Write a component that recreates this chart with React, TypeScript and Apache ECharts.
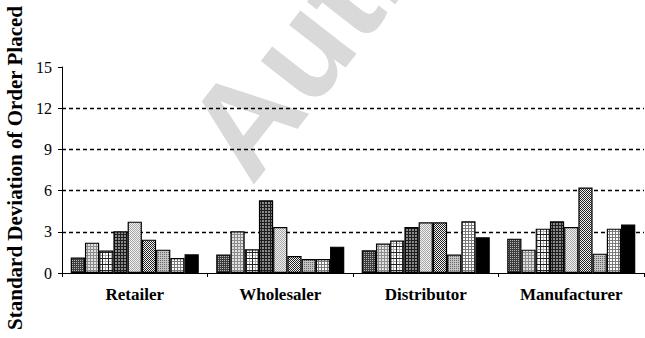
import React, { useEffect, useRef } from "react";
import * as echarts from "echarts";

const echelons = ["Retailer", "Wholesaler", "Distributor", "Manufacturer"];
const seriesNames = ["S1", "S2", "S3", "S4", "S5", "S6", "S7", "S8", "S9"];
const retailer = [1.12, 2.21, 1.63, 3.04, 3.74, 2.43, 1.7, 1.09, 1.36];
const wholesaler = [1.34, 3.04, 1.73, 5.29, 3.35, 1.24, 1.02, 1.02, 1.92];
const distributor = [1.65, 2.14, 2.36, 3.35, 3.69, 3.69, 1.34, 3.77, 2.6];
const manufacturer = [2.5, 1.7, 3.23, 3.77, 3.35, 6.22, 1.41, 3.23, 3.53];
const yTicks = [0, 3, 6, 9, 12, 15];

type PixFn = (x: number, y: number) => string;

function makePattern(size: number, fn: PixFn) {
  const c = document.createElement("canvas");
  c.width = size;
  c.height = size;
  const ctx = c.getContext("2d")!;
  for (let y = 0; y < size; y++) {
    for (let x = 0; x < size; x++) {
      ctx.fillStyle = fn(x, y);
      ctx.fillRect(x, y, 1, 1);
    }
  }
  return { image: c, repeat: "repeat", imageWidth: size, imageHeight: size } as any;
}

export default function App() {
  const ref = useRef<HTMLDivElement>(null);
  useEffect(() => {
    if (!ref.current) return;
    const chart = echarts.init(ref.current, null, { renderer: "svg" });
    const patterns: any[] = [
      makePattern(4, (x, y) => (x % 2 === 0 && y % 2 === 0 ? "#b8b8b8" : "#3c3c3c")),
      makePattern(3, (x, y) => (x % 3 === 0 || y % 3 === 0 ? "#8c8c8c" : "#e2e2e2")),
      makePattern(6, (x, y) => (x === 0 || y === 0 ? "#222" : x === 3 || y === 3 ? "#aaa" : "#fff")),
      makePattern(3, (x, y) => (x % 3 === 0 || y % 3 === 0 ? "#1e1e1e" : "#8a8a8a")),
      makePattern(2, (x, y) => ((x + y) % 2 === 0 ? "#a8a8a8" : "#f0f0f0")),
      makePattern(2, (x, y) => ((x + y) % 2 === 0 ? "#222" : "#f4f4f4")),
      makePattern(2, (x, y) => (x % 2 === 0 && y % 2 === 0 ? "#666" : "#c4c4c4")),
      makePattern(3, (x, y) => (x % 3 === 0 || y % 3 === 0 ? "#7a7a7a" : "#ffffff")),
      "#000000",
    ];
    const table = [retailer, wholesaler, distributor, manufacturer];
    const series = seriesNames.map((name, i) => ({
      name,
      type: "bar",
      data: table.map((row) => row[i]),
      barGap: "0%",
      barCategoryGap: "12%",
      itemStyle: { color: patterns[i], borderColor: "#000", borderWidth: 1.2 },
    }));
    chart.setOption({
      animation: false,
      backgroundColor: "#fff",
      grid: { left: 62, right: 1, top: 67, bottom: 65, containLabel: false },
      graphic: [
        {
          type: "text",
          x: 268,
          y: 200,
          rotation: (52 * Math.PI) / 180,
          z: -10,
          silent: true,
          style: {
            text: "Auth",
            font: "bold 134px 'Liberation Sans'",
            fill: "#d9d9d9",
            align: "left",
            verticalAlign: "bottom",
          },
        },
        {
          type: "text",
          x: 15,
          y: 168,
          rotation: Math.PI / 2,
          style: {
            text: "Standard Deviation of Order Placed",
            font: "bold 21px 'Liberation Serif'",
            fill: "#000",
            align: "center",
            verticalAlign: "middle",
          },
        },
      ],
      xAxis: {
        type: "category",
        data: echelons,
        axisLine: { show: true, lineStyle: { color: "#000", width: 1 } },
        axisTick: { show: true, length: 4, alignWithLabel: false, interval: 0, lineStyle: { color: "#000" } },
        axisLabel: {
          color: "#000",
          fontFamily: "Liberation Serif",
          fontWeight: "bold",
          fontSize: 17,
          margin: 13,
          interval: 0,
        },
        splitLine: { show: false },
      },
      yAxis: {
        type: "value",
        min: 0,
        max: 15,
        interval: 3,
        axisLine: { show: true, lineStyle: { color: "#000", width: 1 } },
        axisTick: { show: true, length: 4, inside: false, lineStyle: { color: "#000" } },
        axisLabel: {
          color: "#000",
          fontFamily: "Liberation Serif",
          fontSize: 16,
          margin: 10,
          formatter: (v: number) => (yTicks.includes(v) ? String(v) : ""),
        },
        splitLine: {
          show: true,
          lineStyle: {
            color: ["transparent", "#000", "#000", "#000", "#000", "transparent"],
            type: [4, 3],
            width: 1.4,
          },
        },
      },
      series,
    });
    return () => chart.dispose();
  }, []);
  return (
    <div
      ref={ref}
      style={{ position: "fixed", left: 0, top: 0, width: 645, height: 338 }}
    />
  );
}
